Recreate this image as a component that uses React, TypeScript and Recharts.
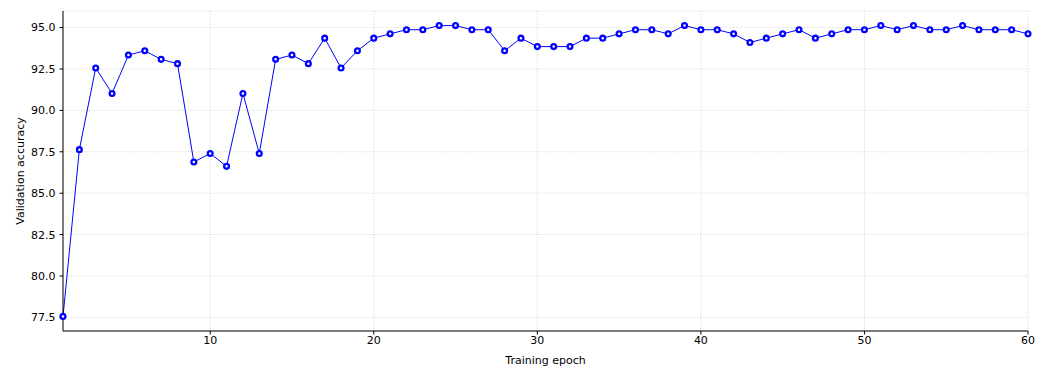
import React from "react";
import {
  LineChart,
  Line,
  XAxis,
  YAxis,
  CartesianGrid,
} from "recharts";

// validation accuracy per epoch (epochs 1..60)
const accuracy = [
  77.56, 87.63, 92.56, 91.02, 93.34, 93.6, 93.08, 92.82, 86.88, 87.4,
  86.62, 91.02, 87.4, 93.08, 93.34, 92.82, 94.36, 92.56, 93.6, 94.36,
  94.62, 94.87, 94.87, 95.12, 95.12, 94.87, 94.87, 93.6, 94.36, 93.85,
  93.85, 93.85, 94.36, 94.36, 94.62, 94.87, 94.87, 94.62, 95.12, 94.87,
  94.87, 94.62, 94.1, 94.36, 94.62, 94.87, 94.36, 94.62, 94.87, 94.87,
  95.12, 94.87, 95.12, 94.87, 94.87, 95.12, 94.87, 94.87, 94.87, 94.62,
];

const xTicks = [10, 20, 30, 40, 50, 60];
const yTicks = [77.5, 80.0, 82.5, 85.0, 87.5, 90.0, 92.5, 95.0];

const chartData = accuracy.map((acc, i) => ({ epoch: i + 1, acc }));

const tickStyle = { fill: "#000", fontSize: 11 };

export default function App() {
  return (
    <div style={{ position: "absolute", left: 0, top: 0 }}>
      <LineChart
        width={1049}
        height={367}
        data={chartData}
        margin={{ top: 11, right: 21, bottom: 0, left: 0 }}
        style={{ fontFamily: "DejaVu Sans" }}
      >
        <CartesianGrid stroke="#d4d4d4" strokeDasharray="1 1.6" />
        <XAxis
          dataKey="epoch"
          type="number"
          domain={[1, 60]}
          ticks={xTicks}
          height={36}
          tick={tickStyle}
          tickSize={3.5}
          tickMargin={2}
          tickLine={{ stroke: "#000" }}
          axisLine={{ stroke: "#000" }}
          label={{
            value: "Training epoch",
            position: "insideBottom",
            offset: 3,
            fill: "#000",
            fontSize: 11,
          }}
        />
        <XAxis
          xAxisId="top"
          orientation="top"
          dataKey="epoch"
          type="number"
          domain={[1, 60]}
          height={0}
          tick={false}
          tickLine={false}
          axisLine={{ stroke: "#000" }}
        />
        <YAxis
          type="number"
          domain={[76.68, 96.0]}
          allowDataOverflow
          ticks={yTicks}
          width={63}
          tick={tickStyle}
          tickSize={3.5}
          tickMargin={4}
          tickLine={{ stroke: "#000" }}
          axisLine={{ stroke: "#000" }}
          tickFormatter={(v: number) => v.toFixed(1)}
          label={{
            value: "Validation accuracy",
            angle: -90,
            position: "center",
            dx: -11.5,
            fill: "#000",
            fontSize: 11,
          }}
        />
        <YAxis
          yAxisId="right"
          orientation="right"
          type="number"
          domain={[76.68, 96.0]}
          width={0}
          tick={false}
          tickLine={false}
          axisLine={{ stroke: "#000" }}
        />
        <Line
          type="linear"
          dataKey="acc"
          stroke="#0000ff"
          strokeWidth={1}
          dot={{ r: 2.4, stroke: "#0000ff", strokeWidth: 2.3, fill: "#fff" }}
          activeDot={false}
          isAnimationActive={false}
        />
      </LineChart>
    </div>
  );
}
